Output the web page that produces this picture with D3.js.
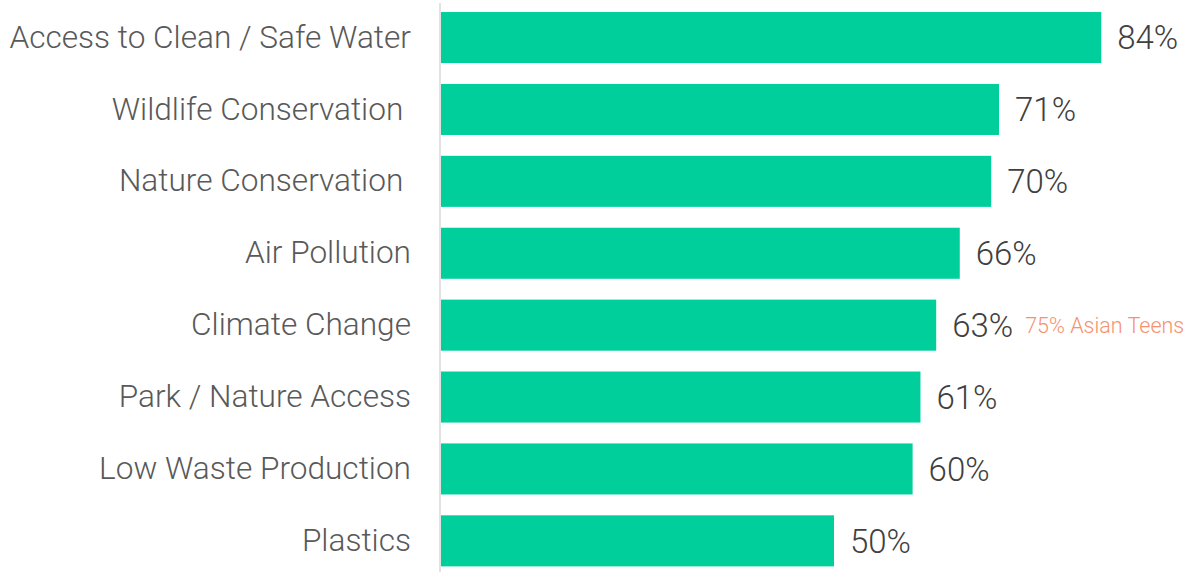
<!DOCTYPE html>
<html>
<head>
<meta charset="utf-8">
<script src="https://cdn.jsdelivr.net/npm/d3@7"></script>
<style>
  html, body { margin: 0; padding: 0; background: #ffffff; }
  svg { display: block; }
  text { white-space: pre; }
</style>
</head>
<body>
<svg id="chart" width="1188" height="572"></svg>
<script>
// Issues ranked by share of respondents
const categories = [
  "Access to Clean / Safe Water",
  "Wildlife Conservation ",
  "Nature Conservation ",
  "Air Pollution",
  "Climate Change",
  "Park / Nature Access",
  "Low Waste Production",
  "Plastics"
];
const values = [84, 71, 70, 66, 63, 61, 60, 50];
const valueLabels = ["84%", "71%", "70%", "66%", "63%", "61%", "60%", "50%"];
const noteCategory = "Climate Change";
const noteText = "75% Asian Teens";

const svg = d3.select("#chart");
const fontFamily = "Roboto, 'Liberation Sans', Arial, sans-serif";

const x = d3.scaleLinear().domain([0, 100]).range([441, 1227]);
const y = d3.scaleBand()
  .domain(categories)
  .range([1.6, 576.8])
  .paddingInner(0.29)
  .paddingOuter(0.145);

const rows = categories.map((c, i) => ({ cat: c, value: values[i], label: valueLabels[i] }));

// Bars
svg.append("g").selectAll("rect")
  .data(rows)
  .join("rect")
  .attr("x", x(0))
  .attr("y", d => y(d.cat))
  .attr("width", d => x(d.value) - x(0))
  .attr("height", y.bandwidth())
  .attr("fill", "#00cf9b");

// Category axis (labels only, plus a thin baseline)
const axis = d3.axisLeft(y).tickSize(0).tickPadding(30);
const gAxis = svg.append("g")
  .attr("transform", `translate(${x(0)},0)`)
  .call(axis);
gAxis.select(".domain").remove();
gAxis.selectAll("text")
  .attr("font-family", fontFamily)
  .attr("font-weight", 300)
  .attr("font-size", 31.6)
  .attr("fill", "#595959");

svg.append("line")
  .attr("x1", x(0) - 1).attr("x2", x(0) - 1)
  .attr("y1", 3).attr("y2", 572)
  .attr("stroke", "#d9d9d9")
  .attr("stroke-width", 1.5);

// Value labels
svg.append("g").selectAll("text")
  .data(rows)
  .join("text")
  .attr("x", d => x(d.value) + 16)
  .attr("y", d => y(d.cat) + y.bandwidth() / 2)
  .attr("dy", "0.36em")
  .attr("font-family", fontFamily)
  .attr("font-weight", 300)
  .attr("font-size", 33)
  .attr("fill", "#404040")
  .text(d => d.label);

// Subgroup note beside the Climate Change value
const noteRow = rows.find(r => r.cat === noteCategory);
svg.append("text")
  .attr("x", x(noteRow.value) + 89)
  .attr("y", y(noteRow.cat) + y.bandwidth() / 2)
  .attr("dy", "0.36em")
  .attr("font-family", fontFamily)
  .attr("font-weight", 300)
  .attr("font-size", 21.5)
  .attr("fill", "#f8906f")
  .text(noteText);
</script>
</body>
</html>
